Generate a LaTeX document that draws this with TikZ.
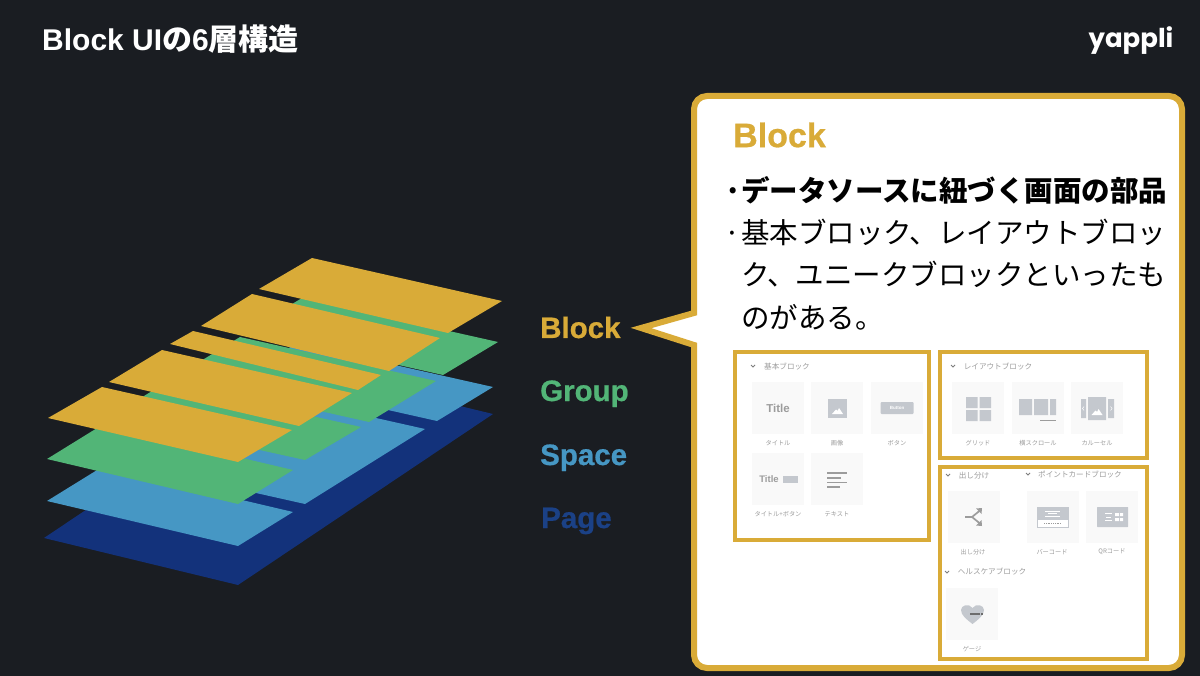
\documentclass[tikz,border=0pt]{standalone}
\usepackage{fontspec}
\setmainfont{Liberation Sans}
\newfontfamily\jp{Noto Sans CJK JP}
\newfontfamily\logofont{Poppins}
\newfontfamily\heavy[UprightFont={* Bold},FakeBold=0.7]{Liberation Sans}
\usetikzlibrary{positioning,calc}
\definecolor{bgdark}{HTML}{1A1D22}
\definecolor{gold}{HTML}{D9AB38}
\definecolor{leaf}{HTML}{52B577}
\definecolor{sky}{HTML}{4697C4}
\definecolor{navy}{HTML}{13327B}
\definecolor{tilegray}{HTML}{F9F9F9}
\definecolor{icongray}{HTML}{C4C8CE}
\definecolor{inkgray}{HTML}{9C9C9C}
\def\fsz#1{\fontsize{#1}{#1}\selectfont}
\tikzset{lname/.style={inner sep=0pt,anchor=base west,font=\fsz{29.5}\heavy}}
\tikzset{body/.style={inner sep=0pt,anchor=base west,font=\fsz{28.5}\jp}}
\tikzset{panel/.style={draw=gold,line width=4pt,fill=white}}
\tikzset{tile/.style={fill=tilegray,minimum size=52pt,inner sep=0pt}}
\tikzset{tilecap/.style={inner sep=0pt,text=inkgray,font=\fsz{6.2}\jp}}
\tikzset{head/.style={inner sep=0pt,text=inkgray,font=\fsz{7.6}\jp}}
\tikzset{ibox/.style={fill=icongray,inner sep=0pt}}
\tikzset{chev/.pic={\draw[inkgray!80!black,line width=.9pt] (-2,-1) -- (0,1) -- (2,-1);}}
\tikzset{peak/.pic={\fill[white] (-5.5,3) -- (-1.5,-1.5) -- (0,0) -- (1.5,-3) -- (5.5,3) -- cycle;}}

\begin{document}
\begin{tikzpicture}[x=1pt,y=-1pt]
		\fill[bgdark] (0,0) rectangle (1200,676);
		\useasboundingbox (0,0) rectangle (1200,676);

		% layers, lowest first
		\fill[navy] (44,538) -- (238,585) -- (493,414) -- (299,367) -- cycle;
		\fill[sky] (47,501) -- (238,546) -- (293,512) -- (102,467) -- cycle;
		\fill[sky] (109,460) -- (305,504) -- (425,429) -- (229,385) -- cycle;
		\fill[sky] (241,377) -- (437,421) -- (493,387) -- (297,343) -- cycle;
		\fill[leaf] (47,459) -- (238,504) -- (293,470) -- (102,425) -- cycle;
		\fill[leaf] (110,417) -- (305,460) -- (361,427) -- (165,383) -- cycle;
		\fill[leaf] (173,378) -- (369,422) -- (436,381) -- (240,337) -- cycle;
		\fill[leaf] (247,331) -- (443,375) -- (498,342) -- (302,298) -- cycle;
		\fill[gold] (48,418) -- (238,462) -- (292,430) -- (102,387) -- cycle;
		\fill[gold] (109,382) -- (299,426) -- (352,393) -- (162,350) -- cycle;
		\fill[gold] (170,344) -- (358,390) -- (381,375) -- (193,331) -- cycle;
		\fill[gold] (201,326) -- (389,371) -- (440,338) -- (252,294) -- cycle;
		\fill[gold] (259,289) -- (448,333) -- (502,301) -- (312,258) -- cycle;

		% layer names
		\node[lname,text=gold] (nblock) at (540,338) {Block};
		\node[lname,text=leaf] (ngroup) at (540,401) {Group};
		\node[lname,text=sky] (nspace) at (540,465) {Space};
		\node[lname,text=navy!85!sky] (npage) at (541,528) {Page};

		% title and logo
		\node[inner sep=0pt,anchor=west,text=white,font=\fsz{30}\bfseries] (title) at (42,39) {Block UI{\jp の}6{\jp 層構造}};
		\node[inner sep=0pt,text=white,font=\fsz{26}\logofont\bfseries] (logo) at (1131,41) {yappli};

		% callout
		\draw[draw=gold,line width=6pt,fill=white,rounded corners=13pt] (694,313) -- (694,96) -- (1182,96) -- (1182,668) -- (694,668) [sharp corners] -- (694,345) -- (641,328) -- cycle;
		\node[inner sep=0pt,anchor=west,text=gold,font=\fsz{34}\heavy] (cblock) at (733,135) {Block};
		\node[body,font=\fsz{28.5}\jp\bfseries] (line1) at (724,202) {\makebox[17pt][c]{·}データソースに紐づく画面の部品};
		\node[body] (line2) at (724,244) {\makebox[17pt][c]{·}基本ブロック、レイアウトブロッ};
		\node[body] (line3) at (741,286) {ク、ユニークブロックといったも};
		\node[body] (line4) at (741,329) {のがある。};

		% panels
		\draw[panel] (735,352) rectangle (929,540);
		\draw[panel] (940,352) rectangle (1147,458);
		\draw[panel] (940,467) rectangle (1147,659);

		% basic blocks
		\pic at (753,366) {chev};
		\node[head] (hbasic) at (787,367) {基本ブロック};
		\node[tile] (ttitle) at (778,408) {};
		\node[tile] (timage) at (837,408) {};
		\node[tile] (tbutton) at (897,408) {};
		\node[tile] (ttitlebtn) at (778,479) {};
		\node[tile] (ttext) at (837,479) {};
		\node[inner sep=0pt,text=inkgray,font=\fsz{11.5}\bfseries] (ititle) at (778,408) {Title};
		\node[ibox,minimum size=19pt] (iimage) at (837.5,408.5) {};
		\pic at (837.5,411) {peak};
		\node[ibox,rounded corners=1pt,minimum width=33pt,minimum height=12pt,text=white,font=\fsz{4.5}\bfseries] (ibutton) at (897,408) {Button};
		\node[inner sep=0pt,text=inkgray,font=\fsz{9.5}\bfseries] (ititlebtn) at (769,479) {Title};
		\node[ibox,minimum width=15pt,minimum height=7pt] (ibtn) at (790.5,479.5) {};
		\draw[inkgray,line width=1.4pt] (827,473) -- (847,473) (827,478) -- (841,478) (827,482.5) -- (847,482.5) (827,487) -- (840,487);
		\node[tilecap] (ctitle) at (778,443) {タイトル};
		\node[tilecap] (cimage) at (837,443) {画像};
		\node[tilecap] (cbutton) at (897,443) {ボタン};
		\node[tilecap] (ctitlebtn) at (778,514) {タイトル+ボタン};
		\node[tilecap] (ctext) at (837,514) {テキスト};

		% layout blocks
		\pic at (953,366) {chev};
		\node[head] (hlayout) at (998,367) {レイアウトブロック};
		\node[tile] (tgrid) at (978,408) {};
		\node[tile] (tscroll) at (1038,408) {};
		\node[tile] (tcarousel) at (1097,408) {};
		\fill[icongray] (966,397) rectangle (977.5,408) (979.5,397) rectangle (991,408) (966,410) rectangle (977.5,421) (979.5,410) rectangle (991,421);
		\fill[icongray] (1019,399) rectangle (1032,415) (1034,399) rectangle (1048,415) (1050,399) rectangle (1056,415);
		\draw[inkgray,line width=.7pt] (1040,420) -- (1056,420);
		\fill[icongray] (1081,399) rectangle (1086,418) (1108,399) rectangle (1114,418) (1088,397) rectangle (1106,420);
		\draw[white,line width=.5pt] (1084,406.5) -- (1082.5,408.5) -- (1084,410.5) (1110.5,406.5) -- (1112,408.5) -- (1110.5,410.5);
		\pic at (1097,412) {peak};
		\node[tilecap] (cgrid) at (978,443) {グリッド};
		\node[tilecap] (cscroll) at (1038,443) {横スクロール};
		\node[tilecap] (ccarousel) at (1097,443) {カルーセル};

		% other blocks
		\pic at (948,475) {chev};
		\node[head] (hsplit) at (974,476) {出し分け};
		\pic at (1028,474) {chev};
		\node[head] (hpoint) at (1080,475) {ポイントカードブロック};
		\pic at (947,572) {chev};
		\node[head] (hhealth) at (992,572) {ヘルスケアブロック};
		\node[tile] (tsplit) at (974,517) {};
		\node[tile] (tbar) at (1053,517) {};
		\node[tile] (tqr) at (1112,517) {};
		\node[tile] (tgauge) at (972,614) {};
		\draw[inkgray,line width=1.7pt] (965,517) -- (972,517) -- (980,510.5) (972,517) -- (980,523.5);
		\fill[inkgray] (982,508) -- (976,508.5) -- (981.5,514) -- cycle (982,526) -- (976,525.5) -- (981.5,520) -- cycle;
		\draw[icongray,fill=white,line width=.5pt] (1037,507) rectangle (1068,527);
		\fill[icongray] (1037,507) rectangle (1068,520);
		\draw[white,line width=.8pt] (1045,511) -- (1060,511) (1048,513.5) -- (1057,513.5) (1045,516) -- (1060,516);
		\draw[inkgray,line width=1.5pt,dash pattern=on 1pt off .8pt] (1044,523.5) -- (1061,523.5);
		\node[ibox,rounded corners=.5pt,minimum width=31pt,minimum height=20pt] (iqr) at (1112.5,517) {};
		\draw[white,line width=.8pt] (1105,513.5) -- (1112,513.5) (1106,517) -- (1111,517) (1105,520.5) -- (1112,520.5);
		\fill[white] (1115,513) rectangle (1119,516) (1120,513) rectangle (1123,516) (1115,518) rectangle (1119,521) (1120,518) rectangle (1123,521);
		\fill[icongray] (972.5,624) .. controls (966,619) and (961,615) .. (961,610) .. controls (961,605) and (969,603) .. (972.5,608) .. controls (976,603) and (984,605) .. (984,610) .. controls (984,615) and (979,619) .. (972.5,624) -- cycle;
		\draw[inkgray!70!black,line width=2.5pt] (970,614) -- (980,614);
		\fill[inkgray!70!black] (981,613) rectangle (983,615);
		\node[tilecap] (csplit) at (973,552) {出し分け};
		\node[tilecap] (cbar) at (1052,552) {バーコード};
		\node[tilecap] (cqr) at (1112,552) {QRコード};
		\node[tilecap] (cgauge) at (972,649) {ゲージ};
\end{tikzpicture}
\end{document}
